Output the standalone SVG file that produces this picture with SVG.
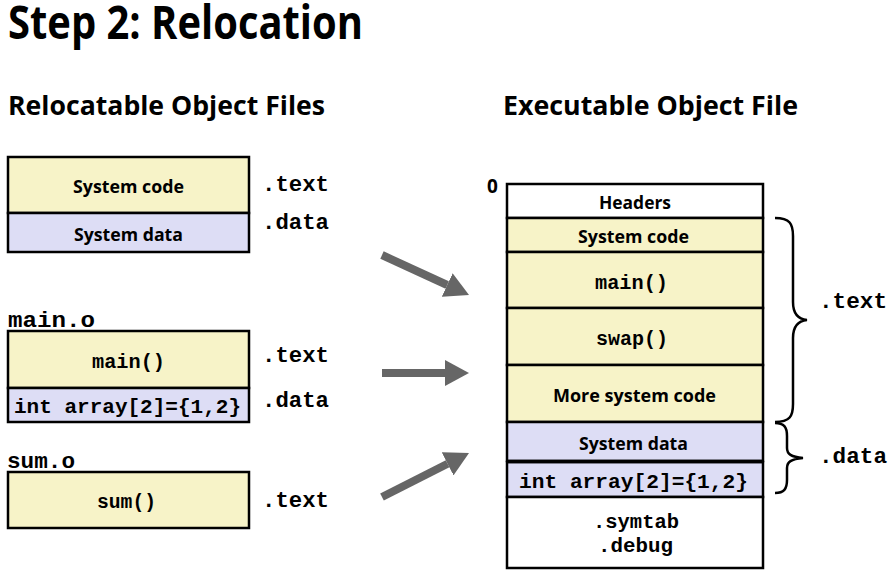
<svg xmlns="http://www.w3.org/2000/svg" width="896" height="578" viewBox="0 0 896 578">
<style>
.sans{font-family:"Open Sans","Noto Sans","Liberation Sans",sans-serif;font-weight:700;fill:#000}
.mono{font-family:"Liberation Mono","DejaVu Sans Mono",monospace;font-weight:700;fill:#000}
.box{stroke:#000;stroke-width:2.5}
.y{fill:#F7F3C8}
.b{fill:#DDDDF5}
.w{fill:#FFFFFF}
.c{text-anchor:middle}
.arrow{stroke:#666;stroke-width:8;fill:none}
.brace{stroke:#000;stroke-width:2.5;fill:none}
</style>
<defs>
<marker id="ah" viewBox="0 0 24 26" markerWidth="24" markerHeight="26" refX="0" refY="13" orient="auto" markerUnits="userSpaceOnUse">
<path d="M0,0 L24,13 L0,26 z" fill="#666"/>
</marker>
</defs>
<rect width="896" height="578" fill="#fff"/>
<text class="sans" x="8" y="39" font-size="46" textLength="355" lengthAdjust="spacingAndGlyphs">Step 2: Relocation</text>
<text class="sans" x="8" y="115" font-size="27" textLength="317" lengthAdjust="spacingAndGlyphs">Relocatable Object Files</text>
<text class="sans" x="503" y="115" font-size="27" textLength="295" lengthAdjust="spacingAndGlyphs">Executable Object File</text>

<g id="sys-obj">
<rect class="box y" x="8" y="157" width="241" height="56"/>
<rect class="box b" x="8" y="213" width="241" height="39"/>
<text class="sans c" x="128.5" y="193" font-size="18" textLength="111" lengthAdjust="spacingAndGlyphs">System code</text>
<text class="sans c" x="128.5" y="241" font-size="18" textLength="109" lengthAdjust="spacingAndGlyphs">System data</text>
<text class="mono" x="262" y="191" font-size="22" textLength="67" lengthAdjust="spacingAndGlyphs">.text</text>
<text class="mono" x="262" y="229" font-size="22" textLength="67" lengthAdjust="spacingAndGlyphs">.data</text>
</g>

<g id="main-obj">
<text class="mono" x="8" y="327" font-size="22" textLength="87" lengthAdjust="spacingAndGlyphs">main.o</text>
<rect class="box y" x="8" y="331" width="241" height="57"/>
<rect class="box b" x="8" y="388" width="241" height="34"/>
<text class="mono c" x="128.5" y="368" font-size="20" textLength="73" lengthAdjust="spacingAndGlyphs">main()</text>
<text class="mono c" x="127.5" y="413" font-size="20" textLength="227" lengthAdjust="spacingAndGlyphs">int array[2]={1,2}</text>
<text class="mono" x="262" y="362" font-size="22" textLength="67" lengthAdjust="spacingAndGlyphs">.text</text>
<text class="mono" x="262" y="407" font-size="22" textLength="67" lengthAdjust="spacingAndGlyphs">.data</text>
</g>

<g id="sum-obj">
<text class="mono" x="7" y="468" font-size="22" textLength="68" lengthAdjust="spacingAndGlyphs">sum.o</text>
<rect class="box y" x="8" y="472" width="241" height="56"/>
<text class="mono c" x="126.5" y="508" font-size="20" textLength="59" lengthAdjust="spacingAndGlyphs">sum()</text>
<text class="mono" x="262" y="507" font-size="22" textLength="67" lengthAdjust="spacingAndGlyphs">.text</text>
</g>

<g id="exe">
<text class="sans" x="487" y="193" font-size="19">0</text>
<rect class="box w" x="507" y="184" width="256" height="34"/>
<rect class="box y" x="507" y="218" width="256" height="34"/>
<rect class="box y" x="507" y="252" width="256" height="56"/>
<rect class="box y" x="507" y="308" width="256" height="57"/>
<rect class="box y" x="507" y="365" width="256" height="57"/>
<rect class="box b" x="507" y="422" width="256" height="39"/>
<rect class="box b" x="507" y="462" width="256" height="35"/>
<rect class="box w" x="507" y="497" width="256" height="71"/>
<line x1="507" y1="461.5" x2="763" y2="461.5" stroke="#000" stroke-width="3.5"/>
<text class="sans c" x="635" y="209" font-size="18" textLength="72" lengthAdjust="spacingAndGlyphs">Headers</text>
<text class="sans c" x="633.5" y="243" font-size="18" textLength="111" lengthAdjust="spacingAndGlyphs">System code</text>
<text class="mono c" x="631.5" y="289" font-size="20" textLength="73" lengthAdjust="spacingAndGlyphs">main()</text>
<text class="mono c" x="632" y="345" font-size="20" textLength="72" lengthAdjust="spacingAndGlyphs">swap()</text>
<text class="sans c" x="634.5" y="402" font-size="18" textLength="163" lengthAdjust="spacingAndGlyphs">More system code</text>
<text class="sans c" x="633.5" y="450" font-size="18" textLength="109" lengthAdjust="spacingAndGlyphs">System data</text>
<text class="mono c" x="633.5" y="488" font-size="20" textLength="229" lengthAdjust="spacingAndGlyphs">int array[2]={1,2}</text>
<text class="mono c" x="636" y="528" font-size="20" textLength="86" lengthAdjust="spacingAndGlyphs">.symtab</text>
<text class="mono c" x="635.5" y="552" font-size="20" textLength="75" lengthAdjust="spacingAndGlyphs">.debug</text>
</g>

<g id="braces">
<path class="brace" d="M775,218 C790,218 793,224 793,236 L793,302 C793,313 797,319 807,320 C797,321 793,327 793,338 L793,404 C793,416 790,422 775,422"/>
<path class="brace" d="M775,423 C784,423 787,427 787,436 L787,448 C787,454 791,457 803,458 C791,459 787,462 787,468 L787,480 C787,489 784,493 775,493"/>
<text class="mono" x="819" y="308" font-size="22" textLength="68" lengthAdjust="spacingAndGlyphs">.text</text>
<text class="mono" x="819" y="463" font-size="22" textLength="68" lengthAdjust="spacingAndGlyphs">.data</text>
</g>

<g id="connectors">
<line class="arrow" x1="382" y1="255" x2="447.2" y2="285" marker-end="url(#ah)"/>
<line class="arrow" x1="382" y1="373" x2="445" y2="373" marker-end="url(#ah)"/>
<line class="arrow" x1="382" y1="497" x2="447.6" y2="463.8" marker-end="url(#ah)"/>
</g>
</svg>
